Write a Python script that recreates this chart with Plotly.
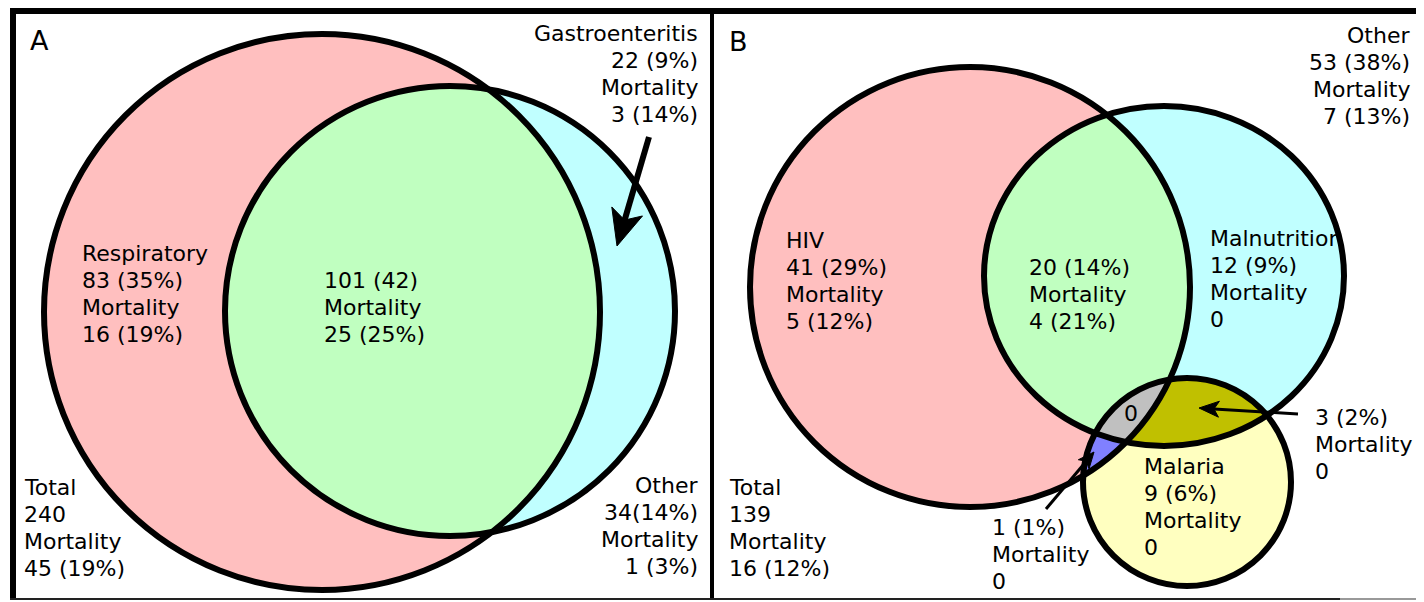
import numpy as np
import plotly.graph_objects as go

# ---------------- data ----------------
A_names = ["Respiratory", "", "Gastroenteritis", "Other", "Total"]
A_counts = ["83 (35%)", "101 (42)", "22 (9%)", "34(14%)", "240"]
A_mortality = ["16 (19%)", "25 (25%)", "3 (14%)", "1 (3%)", "45 (19%)"]

B_names = ["HIV", "", "Malnutrition", "", "Malaria", "", "", "Other", "Total"]
B_counts = ["41 (29%)", "20 (14%)", "12 (9%)", "3 (2%)", "9 (6%)", "1 (1%)", "0", "53 (38%)", "139"]
B_mortality = ["5 (12%)", "4 (21%)", "0", "0", "0", "0", None, "7 (13%)", "16 (12%)"]

# ---------------- geometry (layout) ----------------
W, H = 1424, 602
OFF = 8  # default page margin of the HTML body
# (cx, cy, rx, ry)
A_resp = (322, 312, 278, 278)
A_gast = (450, 311, 225, 225)
B_hiv = (970, 287, 220, 220)
B_maln = (1164, 276, 180, 170)
B_mal = (1187, 482, 104, 104)

PINK = "#FFBFBF"
GREEN = "#C0FFC0"
CYAN = "#C0FFFF"
YELLOW = "#FFFFC0"
OLIVE = "#C0C000"
GREY = "#C0C0C0"
PURPLE = "#8080FF"
FONT = "DejaVu Sans"


def region(ells, n=1440):
    pts = []
    for i, (cx, cy, rx, ry) in enumerate(ells):
        t = np.linspace(0, 2 * np.pi, n, endpoint=False)
        x = cx + rx * np.cos(t)
        y = cy + ry * np.sin(t)
        ok = np.ones(n, bool)
        for j, (ox, oy, orx, ory) in enumerate(ells):
            if j != i:
                ok &= ((x - ox) / orx) ** 2 + ((y - oy) / ory) ** 2 <= 1 + 1e-9
        pts.append(np.c_[x[ok], y[ok]])
    p = np.vstack(pts)
    c = p.mean(axis=0)
    ang = np.arctan2(p[:, 1] - c[1], p[:, 0] - c[0])
    p = p[np.argsort(ang)]
    p = np.vstack([p, p[:1]])
    return p[:, 0], p[:, 1]


fig = go.Figure()


def add_fill(ells, color):
    x, y = region(ells)
    fig.add_trace(go.Scatter(x=x, y=y, mode="lines", fill="toself", fillcolor=color,
                             line=dict(width=0), hoverinfo="skip", showlegend=False))


# Panel A fills
add_fill([A_resp], PINK)
add_fill([A_gast], CYAN)
add_fill([A_resp, A_gast], GREEN)
# Panel B fills
add_fill([B_hiv], PINK)
add_fill([B_maln], CYAN)
add_fill([B_mal], YELLOW)
add_fill([B_hiv, B_maln], GREEN)
add_fill([B_maln, B_mal], OLIVE)
add_fill([B_hiv, B_mal], PURPLE)
add_fill([B_hiv, B_maln, B_mal], GREY)

shapes = []
for (cx, cy, rx, ry) in [A_resp, A_gast, B_hiv, B_maln, B_mal]:
    shapes.append(dict(type="circle", xref="x", yref="y", x0=cx - rx, x1=cx + rx,
                       y0=cy - ry, y1=cy + ry, line=dict(color="black", width=6),
                       fillcolor="rgba(0,0,0,0)", layer="above"))
# frame
shapes += [
    dict(type="line", xref="x", yref="y", x0=10, x1=W, y0=11, y1=11, line=dict(color="black", width=6)),
    dict(type="line", xref="x", yref="y", x0=13, x1=13, y0=10, y1=600, line=dict(color="black", width=6)),
    dict(type="line", xref="x", yref="y", x0=712, x1=712, y0=10, y1=600, line=dict(color="black", width=4)),
    dict(type="line", xref="x", yref="y", x0=10, x1=1340, y0=599, y1=599, line=dict(color="#222", width=2)),
    dict(type="line", xref="x", yref="y", x0=1340, x1=W, y0=599, y1=599, line=dict(color="#999", width=2)),
]


def arrow(tail, tip, L, hw, lw):
    tx, ty = tail
    hx, hy = tip
    d = np.array([hx - tx, hy - ty], float)
    d /= np.hypot(*d)
    nrm = np.array([-d[1], d[0]])
    base = np.array([hx, hy]) - d * L
    notch = np.array([hx, hy]) - d * L * 0.75
    fig.add_trace(go.Scatter(x=[tx, notch[0]], y=[ty, notch[1]], mode="lines",
                             line=dict(color="black", width=lw), hoverinfo="skip", showlegend=False))
    p1 = base + nrm * hw
    p2 = base - nrm * hw
    fig.add_trace(go.Scatter(x=[hx, p1[0], notch[0], p2[0], hx], y=[hy, p1[1], notch[1], p2[1], hy],
                             mode="lines", fill="toself", fillcolor="black",
                             line=dict(color="black", width=1), hoverinfo="skip", showlegend=False))


arrow((649, 137), (617, 246), 36, 16, 6)
arrow((1298, 414), (1199, 408), 20, 8, 3)
arrow((1046, 509), (1094, 452), 16, 7, 3)

ann = []
LS = 27


def label(lines, x, y0, anchor):
    for i, t in enumerate(lines):
        ann.append(dict(x=x, y=y0 + i * LS, xref="x", yref="y", text=t, showarrow=False,
                        xanchor=anchor, yanchor="middle", font=dict(family=FONT, size=22, color="black")))


def lines_for(names, counts, morts, i):
    out = []
    if names[i]:
        out.append(names[i])
    out.append(counts[i])
    if morts[i] is not None:
        out += ["Mortality", morts[i]]
    return out


# Panel A labels
A_pos = [(80, 253, "left"), (322, 280, "left"), (700, 33, "right"), (700, 485, "right"), (22, 487, "left")]
for i, (x, y, a) in enumerate(A_pos):
    label(lines_for(A_names, A_counts, A_mortality, i), x, y, a)

# Panel B labels
B_pos = [(784, 240, "left"), (1027, 267, "left"), (1208, 238, "left"), (1313, 417, "left"),
         (1142, 466, "left"), (990, 527, "left"), (1131, 413, "center"), (1412, 35, "right"),
         (727, 487, "left")]
for i, (x, y, a) in enumerate(B_pos):
    label(lines_for(B_names, B_counts, B_mortality, i), x, y, a)

ann.append(dict(x=28, y=40, xref="x", yref="y", text="A", showarrow=False, xanchor="left",
                yanchor="middle", font=dict(family=FONT, size=27, color="black")))
ann.append(dict(x=727, y=41, xref="x", yref="y", text="B", showarrow=False, xanchor="left",
                yanchor="middle", font=dict(family=FONT, size=27, color="black")))

fig.update_layout(
    width=W - OFF, height=H - OFF, autosize=False,
    margin=dict(l=0, r=0, t=0, b=0, pad=0),
    paper_bgcolor="white", plot_bgcolor="white",
    xaxis=dict(range=[OFF, W], visible=False, fixedrange=True),
    yaxis=dict(range=[H, OFF], visible=False, fixedrange=True),
    shapes=shapes, annotations=ann, showlegend=False,
)
fig.write_html("out.html")
